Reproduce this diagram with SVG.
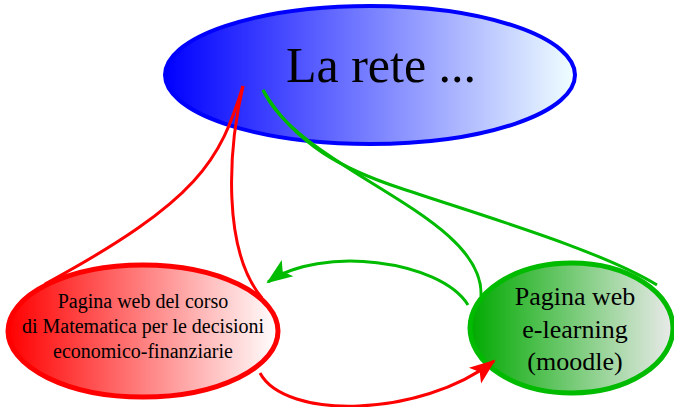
<svg xmlns="http://www.w3.org/2000/svg" width="674" height="407" viewBox="0 0 674 407">
<defs>
<linearGradient id="gBlue" x1="0" y1="0" x2="1" y2="0">
<stop offset="0" stop-color="#0000ff"/>
<stop offset="1" stop-color="#f0ffff"/>
</linearGradient>
<linearGradient id="gRed" x1="0" y1="0" x2="1" y2="0">
<stop offset="0" stop-color="#ff0000"/>
<stop offset="1" stop-color="#ffffff"/>
</linearGradient>
<linearGradient id="gGreen" x1="0" y1="0" x2="1" y2="0">
<stop offset="0" stop-color="#00aa00"/>
<stop offset="1" stop-color="#eaeaea"/>
</linearGradient>
<marker id="arrRed" markerUnits="userSpaceOnUse" markerWidth="30" markerHeight="24" viewBox="-26 -12 30 24" refX="0" refY="0" orient="auto">
<path d="M2,0 L-24,-10 L-18,0 L-24,10 Z" fill="#ff0000"/>
</marker>
<marker id="arrGreen" markerUnits="userSpaceOnUse" markerWidth="30" markerHeight="24" viewBox="-26 -12 30 24" refX="0" refY="0" orient="auto">
<path d="M2,0 L-24,-10 L-18,0 L-24,10 Z" fill="#00bb00"/>
</marker>
</defs>
<style>
.lbl{font-family:"Liberation Serif","Times New Roman",serif;fill:#000;text-anchor:middle}
.red{fill:none;stroke:#ff0000;stroke-width:3}
.green{fill:none;stroke:#00bb00;stroke-width:3}
</style>
<g id="node-rete">
<ellipse cx="370" cy="75" rx="205" ry="69" fill="url(#gBlue)" stroke="#0000ff" stroke-width="4"/>
<text class="lbl" x="381" y="82" font-size="50">La rete ...</text>
</g>
<g id="node-corso">
<ellipse cx="143" cy="331" rx="135" ry="66" fill="url(#gRed)" stroke="#ff0000" stroke-width="5"/>
<text class="lbl" font-size="20"><tspan x="143" y="308">Pagina web del corso</tspan><tspan x="143" y="333">di Matematica per le decisioni</tspan><tspan x="143" y="358">economico-finanziarie</tspan></text>
</g>
<g id="node-moodle">
<ellipse cx="571.5" cy="328" rx="101.5" ry="65" fill="url(#gGreen)" stroke="#00bb00" stroke-width="5"/>
<text class="lbl" font-size="26"><tspan x="575" y="305">Pagina web</tspan><tspan x="575" y="338">e-learning</tspan><tspan x="575" y="370">(moodle)</tspan></text>
</g>
<g id="connectors">
<path class="red" d="M243,86 C220,160 200,200 45,284"/>
<path class="red" d="M243,86 C228,150 222,250 262,298"/>
<path class="green" d="M263,90 C295,145 345,170 400,188 C480,215 600,250 657,285"/>
<path class="green" d="M263,90 C300,170 485,215 481,296"/>
<path class="green" d="M468,305 C440,260 320,245 268,282" marker-end="url(#arrGreen)"/>
<path class="red" d="M260,373 C285,420 420,418 494,361" marker-end="url(#arrRed)"/>
</g>
</svg>
